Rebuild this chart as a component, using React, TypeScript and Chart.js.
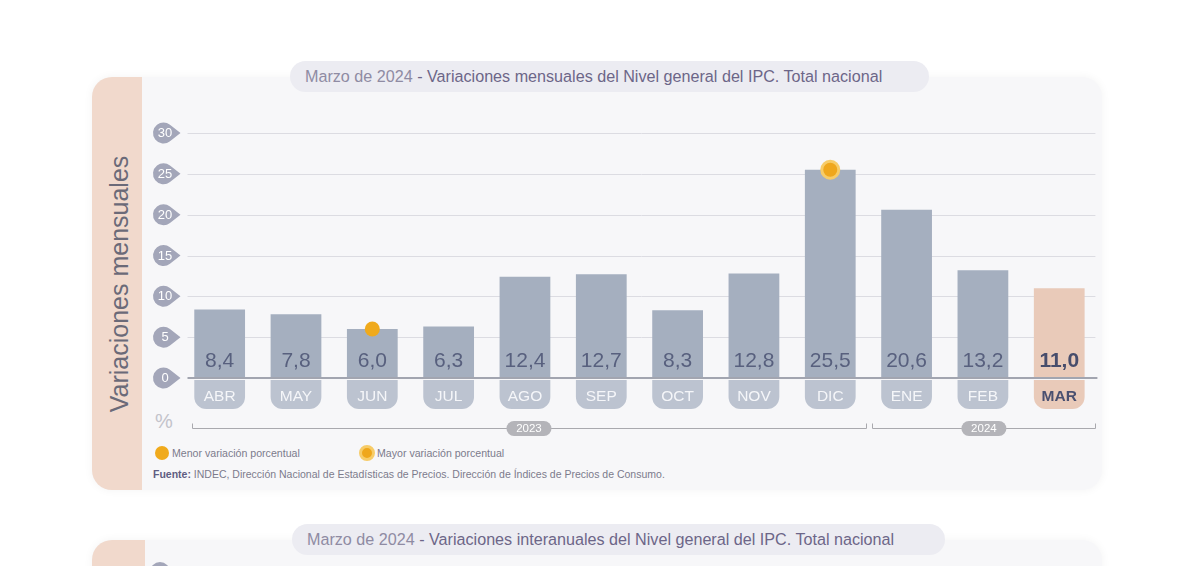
import React, { useEffect, useRef } from "react";
import { Chart, registerables } from "chart.js";

Chart.register(...registerables);

const FONT = '"Liberation Sans", Arial, Helvetica, sans-serif';

const months = ["ABR", "MAY", "JUN", "JUL", "AGO", "SEP", "OCT", "NOV", "DIC", "ENE", "FEB", "MAR"];
const monthlyVariation = [8.4, 7.8, 6.0, 6.3, 12.4, 12.7, 8.3, 12.8, 25.5, 20.6, 13.2, 11.0];
const yTicks = [0, 5, 10, 15, 20, 25, 30];
const lowestMarker = [null, null, 6.0, null, null, null, null, null, null, null, null, null];
const highestMarker = [null, null, null, null, null, null, null, null, 25.5, null, null, null];
const yearLabels = ["2023", "2024"];
const yearFirstIndex = [0, 9];
const yearLastIndex = [8, 11];
const currentIndex = 11;

const BAR = "#a5afbf";
const BAR_CUR = "#e9cab9";

function fmt(v: number) {
  return v.toFixed(1).replace(".", ",");
}

const decor = {
  id: "decor",
  beforeDatasetsDraw(chart: any) {
    const { ctx, chartArea, scales } = chart;
    const y = scales.y;
    ctx.save();
    ctx.strokeStyle = "#dcdce2";
    ctx.lineWidth = 1;
    yTicks.forEach((v) => {
      if (v === 0) return;
      const py = Math.round(y.getPixelForValue(v)) + 0.5;
      ctx.beginPath();
      ctx.moveTo(chartArea.left + 6, py);
      ctx.lineTo(chartArea.right - 2, py);
      ctx.stroke();
    });
    yTicks.forEach((v) => {
      const py = y.getPixelForValue(v);
      const cx = chartArea.left - 18;
      const r = 10.5;
      const tip = chartArea.left - 1;
      const d = tip - cx;
      const a = Math.acos(r / d);
      ctx.beginPath();
      ctx.moveTo(tip, py);
      ctx.lineTo(cx + r * Math.cos(a), py + r * Math.sin(a));
      ctx.arc(cx, py, r, a, Math.PI * 2 - a, false);
      ctx.closePath();
      ctx.fillStyle = "#a3a6b9";
      ctx.fill();
      ctx.fillStyle = "#ffffff";
      ctx.font = `13px ${FONT}`;
      ctx.textAlign = "center";
      ctx.textBaseline = "middle";
      ctx.fillText(String(v), cx + 1.5, py + 0.5);
    });
    ctx.restore();
  },
  afterDatasetsDraw(chart: any) {
    const { ctx, chartArea, scales } = chart;
    const x = scales.x;
    const y = scales.y;
    const zeroY = y.getPixelForValue(0);
    ctx.save();
    ctx.strokeStyle = "#a2a5b0";
    ctx.lineWidth = 2;
    ctx.beginPath();
    ctx.moveTo(chartArea.left + 6, zeroY);
    ctx.lineTo(chartArea.right, zeroY);
    ctx.stroke();

    const meta = chart.getDatasetMeta(2);
    meta.data.forEach((el: any, i: number) => {
      const { x: bx, width } = el.getProps(["x", "width"], true);
      const isCur = i === currentIndex;
      ctx.fillStyle = isCur ? "#474d6c" : "#58607e";
      ctx.font = `${isCur ? "bold " : ""}21px ${FONT}`;
      ctx.textAlign = "center";
      ctx.textBaseline = "alphabetic";
      ctx.fillText(fmt(monthlyVariation[i]), bx, zeroY - 11);
      const top = zeroY + 2;
      const h = 29;
      ctx.beginPath();
      (ctx as any).roundRect(bx - width / 2, top, width, h, [0, 0, 12, 12]);
      ctx.fillStyle = isCur ? BAR_CUR : "#bcc3d0";
      ctx.fill();
      ctx.fillStyle = isCur ? "#4a5070" : "#f5f6f9";
      ctx.font = `${isCur ? "bold " : ""}15.5px ${FONT}`;
      ctx.fillText(months[i], bx, top + 21);
    });

    const cat = x.getPixelForValue(1) - x.getPixelForValue(0);
    const lineY = zeroY + 50.5;
    yearLabels.forEach((lab, k) => {
      const c0 = x.getPixelForValue(yearFirstIndex[k]);
      const c1 = x.getPixelForValue(yearLastIndex[k]);
      const left = yearFirstIndex[k] === 0 ? chartArea.left + 10 : c0 - cat / 2 + 4;
      const right = c1 + cat / 2 - 2;
      ctx.strokeStyle = "#a9a9ae";
      ctx.lineWidth = 1;
      ctx.beginPath();
      ctx.moveTo(Math.round(left) + 0.5, lineY - 5);
      ctx.lineTo(Math.round(left) + 0.5, lineY);
      ctx.lineTo(Math.round(right) + 0.5, lineY);
      ctx.lineTo(Math.round(right) + 0.5, lineY - 5);
      ctx.stroke();
      const mid = (left + right) / 2;
      ctx.beginPath();
      (ctx as any).roundRect(mid - 22.5, lineY - 7.5, 45, 15, 7.5);
      ctx.fillStyle = "#b4b4b9";
      ctx.fill();
      ctx.fillStyle = "#ffffff";
      ctx.font = `11.5px ${FONT}`;
      ctx.textAlign = "center";
      ctx.textBaseline = "middle";
      ctx.fillText(lab, mid, lineY + 0.5);
    });
    ctx.restore();
  },
};

function ChartCanvas() {
  const ref = useRef<HTMLCanvasElement | null>(null);
  useEffect(() => {
    if (!ref.current) return;
    const chart = new Chart(ref.current, {
      type: "bar",
      data: {
        labels: months,
        datasets: [
          {
            type: "line",
            label: "Mayor variación porcentual",
            data: highestMarker as any,
            showLine: false,
            pointRadius: 8.5,
            pointBackgroundColor: "#efa71c",
            pointBorderColor: "#f7cc68",
            pointBorderWidth: 3,
            order: 0,
          } as any,
          {
            type: "line",
            label: "Menor variación porcentual",
            data: lowestMarker as any,
            showLine: false,
            pointRadius: 7.5,
            pointBackgroundColor: "#f0aa1c",
            pointBorderWidth: 0,
            order: 0,
          } as any,
          {
            type: "bar",
            label: "Variaciones mensuales",
            data: monthlyVariation,
            backgroundColor: monthlyVariation.map((_, i) => (i === currentIndex ? BAR_CUR : BAR)),
            categoryPercentage: 1,
            barPercentage: 0.665,
            borderWidth: 0,
            order: 1,
          },
        ],
      },
      options: {
        responsive: false,
        animation: false,
        layout: { padding: { left: 181.5, right: 102.6, top: 133, bottom: 188 } },
        plugins: { legend: { display: false }, tooltip: { enabled: false } },
        scales: {
          x: { display: false },
          y: { display: false, min: 0, max: 30 },
        },
      },
      plugins: [decor],
    });
    return () => chart.destroy();
  }, []);
  return (
    <canvas
      ref={ref}
      width={1200}
      height={566}
      style={{ position: "absolute", left: 0, top: 0, width: 1200, height: 566 }}
    />
  );
}

export default function App() {
  const abs: React.CSSProperties = { position: "absolute" };
  return (
    <div
      style={{
        position: "absolute",
        left: 0,
        top: 0,
        width: 1200,
        height: 566,
        overflow: "hidden",
        background: "#ffffff",
        fontFamily: FONT,
      }}
    >
      <div
        style={{
          ...abs,
          left: 92,
          top: 77,
          width: 1010,
          height: 413,
          borderRadius: 20,
          background: "#f7f7f9",
          boxShadow: "0 0 10px rgba(0,0,0,0.05)",
          overflow: "hidden",
        }}
      >
        <div style={{ ...abs, left: 0, top: 0, width: 50, height: "100%", background: "#f1d9cc" }} />
      </div>
      <div
        style={{
          ...abs,
          left: 290,
          top: 61,
          width: 639,
          height: 31,
          borderRadius: 16,
          background: "#ececf2",
          fontSize: 16.15,
          lineHeight: "31px",
          paddingLeft: 15,
          boxSizing: "border-box",
          whiteSpace: "nowrap",
          color: "#6c6688",
        }}
      >
        <span style={{ color: "#8f8ba3" }}>Marzo de 2024</span> - Variaciones mensuales del Nivel general del IPC. Total nacional
      </div>
      <div
        style={{
          ...abs,
          left: 119 - 160,
          top: 284 - 16,
          width: 320,
          height: 32,
          lineHeight: "32px",
          textAlign: "center",
          fontSize: 25,
          color: "#6b6a78",
          transform: "rotate(-90deg)",
          whiteSpace: "nowrap",
        }}
      >
        Variaciones mensuales
      </div>
      <div style={{ ...abs, left: 155, top: 410, fontSize: 20, color: "#c3c3cb" }}>%</div>
      <div style={{ ...abs, left: 154.5, top: 445.5, width: 14, height: 14, borderRadius: "50%", background: "#f0aa1c" }} />
      <div style={{ ...abs, left: 172, top: 446.5, fontSize: 10.6, color: "#7c7b8c", whiteSpace: "nowrap" }}>
        Menor variación porcentual
      </div>
      <div
        style={{
          ...abs,
          left: 358.5,
          top: 444.5,
          width: 16,
          height: 16,
          borderRadius: "50%",
          background: "#efa71c",
          border: "3px solid #f7cc68",
          boxSizing: "border-box",
        }}
      />
      <div style={{ ...abs, left: 377, top: 446.5, fontSize: 10.6, color: "#7c7b8c", whiteSpace: "nowrap" }}>
        Mayor variación porcentual
      </div>
      <div style={{ ...abs, left: 153, top: 467.5, fontSize: 10.5, color: "#7c7b8c", whiteSpace: "nowrap" }}>
        <b style={{ color: "#5f5d82" }}>Fuente:</b> INDEC, Dirección Nacional de Estadísticas de Precios. Dirección de Índices de Precios de Consumo.
      </div>

      <div
        style={{
          ...abs,
          left: 92,
          top: 540,
          width: 1010,
          height: 200,
          borderRadius: 20,
          background: "#f7f7f9",
          boxShadow: "0 0 10px rgba(0,0,0,0.05)",
          overflow: "hidden",
        }}
      >
        <div style={{ ...abs, left: 0, top: 0, width: 53, height: "100%", background: "#f1d9cc" }} />
      </div>
      <div style={{ ...abs, left: 150, top: 562, width: 20, height: 20, borderRadius: "50%", background: "#a3a6b9" }} />
      <div
        style={{
          ...abs,
          left: 292,
          top: 524,
          width: 653,
          height: 31,
          borderRadius: 16,
          background: "#ececf2",
          fontSize: 16.15,
          lineHeight: "31px",
          paddingLeft: 15,
          boxSizing: "border-box",
          whiteSpace: "nowrap",
          color: "#6c6688",
        }}
      >
        <span style={{ color: "#8f8ba3" }}>Marzo de 2024</span> - Variaciones interanuales del Nivel general del IPC. Total nacional
      </div>

      <ChartCanvas />
    </div>
  );
}
